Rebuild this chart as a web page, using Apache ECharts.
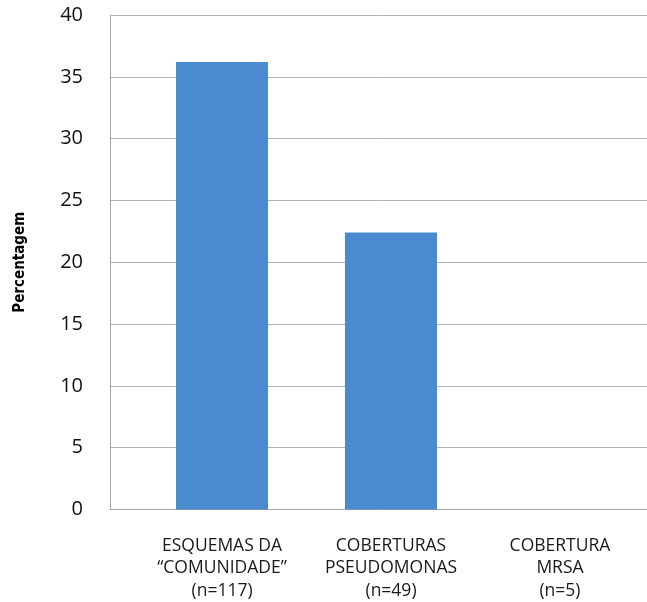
<!DOCTYPE html>
<html>
<head>
<meta charset="utf-8">
<script src="https://cdn.jsdelivr.net/npm/echarts@6/dist/echarts.min.js"></script>
<style>
  html, body { margin: 0; padding: 0; background: #fff; }
  #main { width: 647px; height: 602px; }
</style>
</head>
<body>
<div id="main"></div>
<script>
// categories (x) and percentages (y)
const categories = ['ESQUEMAS DA\n\u201CCOMUNIDADE\u201D\n(n=117)', 'COBERTURAS\nPSEUDOMONAS\n(n=49)', 'COBERTURA\nMRSA\n(n=5)'];
const positions = [0, 1, 2];
const percentages = [36.2, 22.4, 0];
const yTicks = [0, 5, 10, 15, 20, 25, 30, 35, 40];

const chart = echarts.init(document.getElementById('main'));

chart.setOption({
    animation: false,
    grid: {left: 110, right: 0, top: 15, bottom: 89},
    xAxis: {
        type: 'value',
        min: -0.663,
        max: 2.515,
        axisLine: {show: true, onZero: false, lineStyle: {color: '#a6a6a6', width: 1}},
        axisTick: {show: false},
        splitLine: {show: false},
        axisLabel: {
            customValues: positions,
            margin: 25,
            color: '#1a1a1a',
            fontFamily: 'Open Sans',
            fontSize: 17.5,
            lineHeight: 22.5,
            align: 'center',
            formatter: function (v) {
                const i = Math.round(v);
                return categories[i] || '';
            }
        }
    },
    yAxis: {
        type: 'value',
        min: 0,
        max: 40,
        interval: 5,
        name: 'Percentagem',
        nameLocation: 'middle',
        nameGap: 82,
        nameRotate: 90,
        nameTextStyle: {
            fontFamily: 'Liberation Sans Narrow, DejaVu Sans Condensed, sans-serif',
            fontWeight: 'bold',
            fontSize: 15,
            color: '#000'
        },
        axisLine: {show: true, onZero: false, lineStyle: {color: '#a6a6a6', width: 1}},
        axisTick: {show: false},
        axisLabel: {
            margin: 27,
            color: '#111',
            fontFamily: 'Open Sans',
            fontSize: 20,
            formatter: function (v) { return yTicks.indexOf(v) >= 0 ? String(v) : ''; }
        },
        splitLine: {show: true, lineStyle: {color: '#b3b3b3', width: 1}}
    },
    series: [{
        type: 'bar',
        barWidth: 92,
        itemStyle: {color: '#4a8bcf'},
        data: positions.map(function (p, i) { return [p, percentages[i]]; })
    }]
});
</script>
</body>
</html>
